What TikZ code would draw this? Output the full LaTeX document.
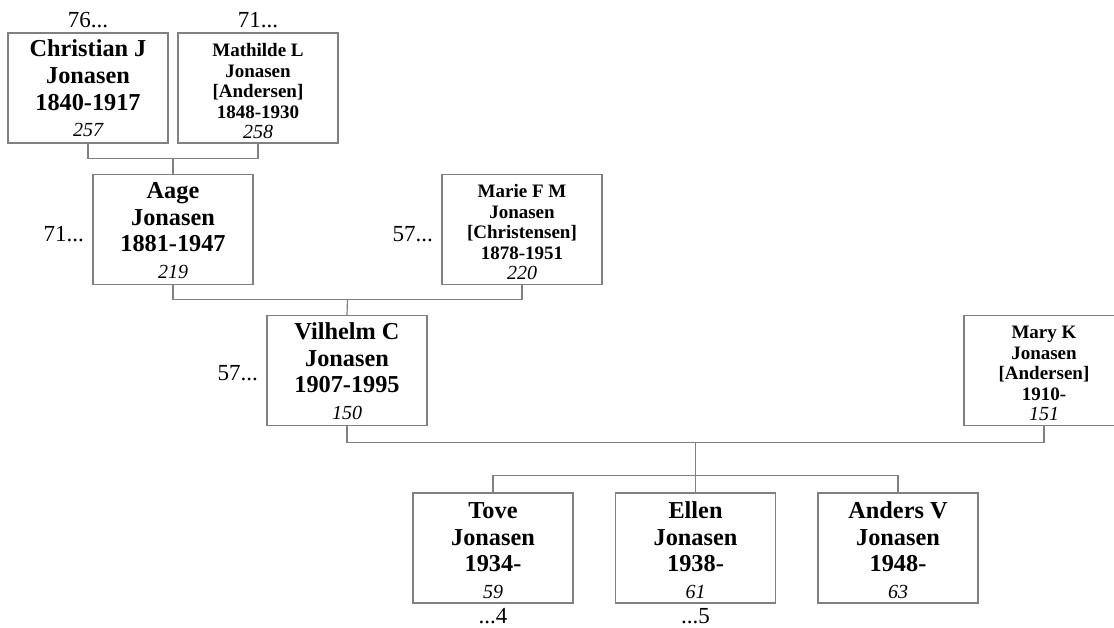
\documentclass[tikz,border=0pt]{standalone}
\usepackage{fontspec}
\setmainfont{Liberation Serif}
\usetikzlibrary{calc}
\definecolor{linegray}{RGB}{128,128,128}
\tikzset{
  person/.style={draw=linegray, line width=1.2pt, minimum width=160pt, minimum height=110pt,
    inner sep=0pt, align=center, font=\fontsize{24.3}{26.7}\selectfont\bfseries},
  personsmall/.style={person, font=\fontsize{19}{20.5}\selectfont\bfseries},
  refno/.style={font=\fontsize{23}{25}\selectfont},
  conn/.style={draw=linegray, line width=1.2pt},
}
\newcommand{\refnum}[1]{{\fontsize{20}{22}\selectfont\mdseries\itshape #1}}
\newcommand{\tstrut}[1]{\rule{0pt}{#1pt}}
\begin{document}
\begin{tikzpicture}[x=1pt,y=-1pt]
\useasboundingbox (0,0) rectangle (1114,627);
% generation 1
\node[person] (christian) at (88,88) {\tstrut{18}Christian J\\Jonasen\\1840-1917\\\refnum{257}};
\node[personsmall] (mathilde) at (258,88) {\tstrut{20}Mathilde L\\Jonasen\\{}[Andersen]\\1848-1930\\\refnum{258}};
% generation 2
\node[person] (aage) at (173,229.5) {\tstrut{18}Aage\\Jonasen\\1881-1947\\\refnum{219}};
\node[personsmall] (marie) at (522,229.5) {\tstrut{19}Marie F M\\Jonasen\\{}[Christensen]\\1878-1951\\\refnum{220}};
% generation 3
\node[person] (vilhelm) at (347,370.5) {\tstrut{18}Vilhelm C\\Jonasen\\1907-1995\\\refnum{150}};
\node[personsmall] (mary) at (1044,370.5) {\tstrut{19}Mary K\\Jonasen\\{}[Andersen]\\1910-\\\refnum{151}};
% children
\node[person] (tove) at (493,548) {\tstrut{21}Tove\\Jonasen\\1934-\\\refnum{59}};
\node[person] (ellen) at (695.5,548) {\tstrut{21}Ellen\\Jonasen\\1938-\\\refnum{61}};
\node[person] (anders) at (898,548) {\tstrut{21}Anders V\\Jonasen\\1948-\\\refnum{63}};
% reference labels
\node[refno, anchor=base] (l76) at ($(christian.north)+(0,-4.5)$) {76...};
\node[refno, anchor=base] (l71a) at ($(mathilde.north)+(0,-4.5)$) {71...};
\node[refno, anchor=base east] (l71b) at ($(aage.west)+(-5,12)$) {71...};
\node[refno, anchor=base east] (l57a) at ($(marie.west)+(-5,12)$) {57...};
\node[refno, anchor=base east] (l57b) at ($(vilhelm.west)+(-5,10)$) {57...};
\node[refno, anchor=base] (l4) at ($(tove.south)+(0,20)$) {...4};
\node[refno, anchor=base] (l5) at ($(ellen.south)+(0,20)$) {...5};
% connectors
\coordinate (j1) at ($(christian.south)!0.5!(mathilde.south)+(0,15)$);
\draw[conn] (christian.south) |- (j1) -| (mathilde.south);
\draw[conn] (j1) -- (aage.north);
\coordinate (j2) at ($(aage.south)!0.5!(marie.south)+(0,14)$);
\draw[conn] (aage.south) |- (j2) -| (marie.south);
\draw[conn] (j2) -- (vilhelm.north);
\coordinate (j3) at ($(vilhelm.south)!0.5!(mary.south)+(0,16)$);
\draw[conn] (vilhelm.south) |- (j3) -| (mary.south);
\coordinate (k) at ($(ellen.north)+(0,-17)$);
\draw[conn] (j3) -- (k);
\draw[conn] (tove.north) |- (k) -| (anders.north);
\draw[conn] (k) -- (ellen.north);
\end{tikzpicture}
\end{document}
